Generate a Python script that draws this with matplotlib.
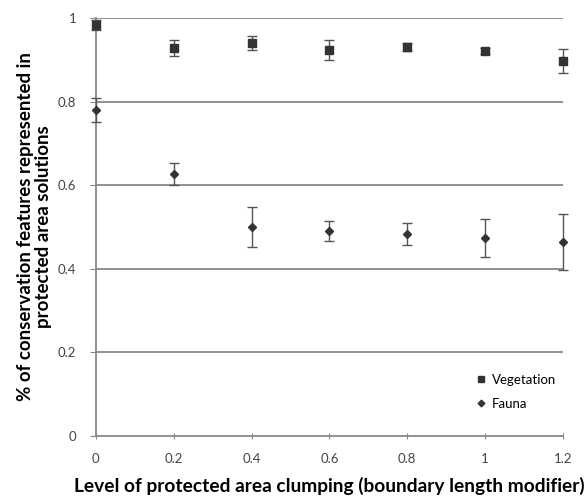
import matplotlib
matplotlib.use("Agg")
import matplotlib.pyplot as plt
from matplotlib.container import ErrorbarContainer

x_vals = [0, 0.2, 0.4, 0.6, 0.8, 1.0, 1.2]
veg_mean = [0.983, 0.928, 0.940, 0.923, 0.930, 0.921, 0.897]
veg_err = [0.012, 0.020, 0.017, 0.023, 0.010, 0.008, 0.029]
fauna_mean = [0.780, 0.627, 0.500, 0.490, 0.483, 0.474, 0.464]
fauna_err = [0.028, 0.027, 0.048, 0.024, 0.026, 0.045, 0.066]
x_ticks = [0, 0.2, 0.4, 0.6, 0.8, 1, 1.2]
x_ticklabels = ["0", "0.2", "0.4", "0.6", "0.8", "1", "1.2"]
y_ticks = [0, 0.2, 0.4, 0.6, 0.8, 1]
y_ticklabels = ["0", "0.2", "0.4", "0.6", "0.8", "1"]

plt.rcParams['font.family'] = ['Lato', 'DejaVu Sans']

fig = plt.figure(figsize=(5.84, 4.97), dpi=100)
ax = fig.add_axes([0.164, 0.1227, 0.800, 0.8413])

mc = '#333333'
e1 = ax.errorbar(x_vals, veg_mean, yerr=veg_err, fmt='s', color=mc, ecolor='#555555',
                 markersize=6.2, capsize=3.5, elinewidth=1, capthick=1, label='Vegetation', zorder=3)
e2 = ax.errorbar(x_vals, fauna_mean, yerr=fauna_err, fmt='D', color=mc, ecolor='#555555',
                 markersize=4.5, capsize=3.5, elinewidth=1, capthick=1, label='Fauna', zorder=3)
for cont in (e1, e2):
    for art in cont.get_children():
        art.set_clip_on(False)

ax.set_xlim(0, 1.2)
ax.set_ylim(0, 1)
ax.set_xticks(x_ticks)
ax.set_xticklabels(x_ticklabels, fontsize=9.5, color='#444444')
ax.set_yticks(y_ticks)
ax.set_yticklabels(y_ticklabels, fontsize=9.5, color='#444444')
ax.tick_params(axis='y', length=4, color='#888888', pad=10)
ax.tick_params(axis='x', direction='inout', length=5, color='#888888', pad=10)

for y in y_ticks[1:]:
    ax.axhline(y, color='#888888', linewidth=1.3, zorder=1)

for s in ['top', 'right']:
    ax.spines[s].set_visible(False)
for s in ['left', 'bottom']:
    ax.spines[s].set_color('#888888')
    ax.spines[s].set_linewidth(1.3)

ax.set_xlabel('Level of protected area clumping (boundary length modifier)',
              fontsize=13.8, fontweight='bold', labelpad=8)
ax.set_ylabel('% of conservation features represented in\nprotected area solutions',
              fontsize=13.5, fontweight='bold', labelpad=4, linespacing=1.1)

handles, labels = ax.get_legend_handles_labels()
handles = [h[0] if isinstance(h, ErrorbarContainer) else h for h in handles]
ax.legend(handles, labels, loc='lower right', bbox_to_anchor=(1.01, 0.035), frameon=False,
          fontsize=9.5, handletextpad=0.3, labelspacing=0.9, markerscale=0.75, handlelength=1.0)

fig.savefig('out.png', dpi=100)
